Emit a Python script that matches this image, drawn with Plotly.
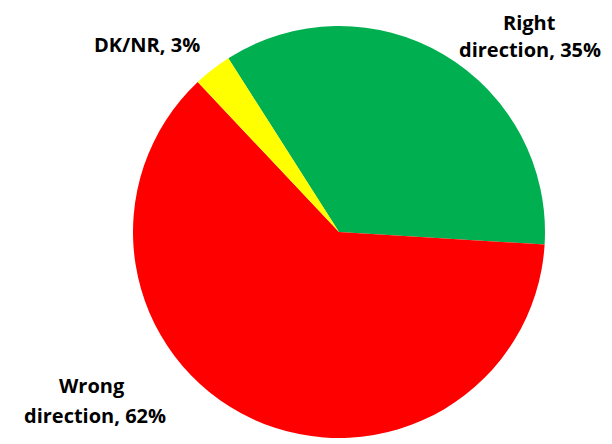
import plotly.graph_objects as go

categories = ["Right direction", "Wrong direction", "DK/NR"]
values = [35, 62, 3]
colors = ["#00B050", "#FF0000", "#FFFF00"]
label_lines = [["Right", "direction, 35%"], ["Wrong", "direction, 62%"], ["DK/NR, 3%"]]

OFF = 8  # browser body margin
W, H = 612 - OFF, 444 - OFF
cx, cy, r = 339 - OFF, 232 - OFF, 206

fig = go.Figure(go.Pie(
    labels=categories,
    values=values,
    marker=dict(colors=colors, line=dict(width=0)),
    sort=False,
    direction="clockwise",
    rotation=-32.5,
    textinfo="none",
    hoverinfo="label+percent",
    showlegend=False,
    domain=dict(x=[(cx - r) / W, (cx + r) / W], y=[(H - cy - r) / H, (H - cy + r) / H]),
))

# (center x, center y) of each text line in page pixels
line_pos = [[(529, 23), (530, 49)], [(92, 385), (95, 415)], [(147, 45)]]
for lines, poss in zip(label_lines, line_pos):
    for txt, (x, y) in zip(lines, poss):
        fig.add_annotation(
            x=(x - OFF) / W, y=1 - (y - OFF) / H, xref="paper", yref="paper",
            text=txt, showarrow=False, xanchor="center", yanchor="middle",
            font=dict(family="Open Sans", size=20, color="#000000", weight="bold"),
            align="center", borderpad=0,
        )

fig.update_layout(
    width=W, height=H,
    margin=dict(l=0, r=0, t=0, b=0),
    paper_bgcolor="white", plot_bgcolor="white",
)
fig.write_html("out.html")
